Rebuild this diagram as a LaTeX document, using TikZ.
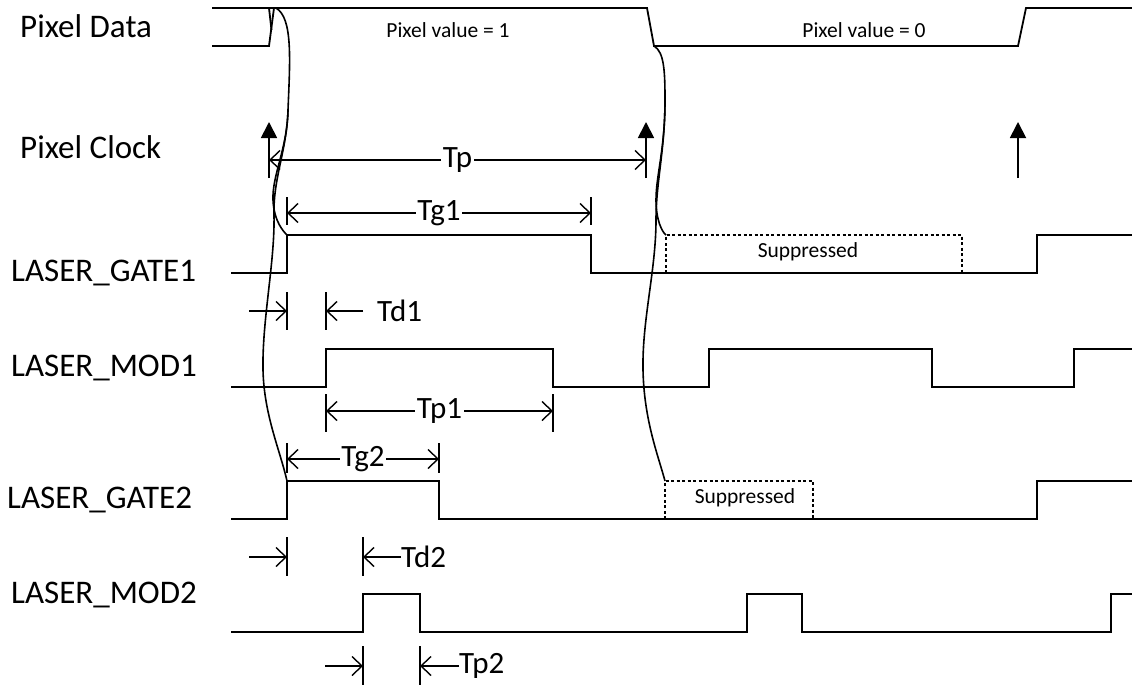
\documentclass[tikz,border=0pt]{standalone}
\usepackage{fontspec}
\setmainfont{Carlito}
\usetikzlibrary{arrows.meta}
\begin{document}
\begin{tikzpicture}[x=1pt,y=-1pt,
  sig/.style={line width=1.8pt, line join=miter},
  wave/.style={line width=1.6pt},
  dim/.style={line width=1.4pt},
  barb/.tip={Straight Barb[length=10pt,width=19pt,line width=1.4pt]},
  dimboth/.style={dim, barb-barb},
  dimarr/.style={dim, -barb},
  clk/.style={line width=1.8pt, -{Triangle[length=16pt,width=16pt]}},
  supp/.style={line width=1.4pt, dash pattern=on 3pt off 2.5pt},
  biglbl/.style={font=\fontsize{31}{37}\selectfont, inner sep=0pt},
  siglbl/.style={font=\fontsize{33}{39}\selectfont, inner sep=0pt, anchor=base west},
  dimlbl/.style={font=\fontsize{31}{37}\selectfont, fill=white, inner xsep=1.5pt, inner ysep=0pt},
  smalllbl/.style={font=\fontsize{21.5}{25}\selectfont, inner sep=0pt}
]
\useasboundingbox (0,0) rectangle (1132,688);

% signal names
\node[siglbl] (nPD) at (20,37) {Pixel Data};
\node[siglbl] (nPC) at (20,158) {Pixel Clock};
\node[siglbl] (nG1) at (11,281) {LASER\_GATE1};
\node[siglbl] (nM1) at (11,376) {LASER\_MOD1};
\node[siglbl] (nG2) at (7,508) {LASER\_GATE2};
\node[siglbl] (nM2) at (11,603) {LASER\_MOD2};

% Pixel Data
\draw[sig] (212,46) -- (269,46) -- (274,8);
\draw[sig] (269,8) -- (271.5,30);
\draw[sig] (212,8) -- (647,8) -- (654,46) -- (1018,46) -- (1026,8) -- (1132,8);
\node[smalllbl] (pv1) at (448,30) {Pixel value = 1};
\node[smalllbl] (pv0) at (864,30) {Pixel value = 0};

% Pixel Clock
\coordinate (c1b) at (269,178); \coordinate (c1t) at (269,122);
\coordinate (c2b) at (646,178); \coordinate (c2t) at (646,122);
\coordinate (c3b) at (1018,178); \coordinate (c3t) at (1018,122);
\draw[clk] (c1b) -- (c1t);
\draw[clk] (c2b) -- (c2t);
\draw[clk] (c3b) -- (c3t);
\coordinate (tpa) at (269,160); \coordinate (tpb) at (646,160);
\draw[dimboth] (tpa) -- node[dimlbl] (tp) {Tp} (tpb);

% LASER_GATE1
\draw[sig] (231,273) -- (287,273) -- (287,235) -- (591,235) -- (591,273) -- (1037,273) -- (1037,235) -- (1132,235);
\draw[supp] (666,273) -- (666,235) -- (962,235) -- (962,273);
\node[smalllbl] (s1) at (808,252) {Suppressed};
% Tg1
\coordinate (g1t1) at (287,197); \coordinate (g1b1) at (287,225);
\coordinate (g1t2) at (591,197); \coordinate (g1b2) at (591,225);
\draw[dim] (g1t1) -- (g1b1);
\draw[dim] (g1t2) -- (g1b2);
\coordinate (g1a) at (287,213); \coordinate (g1b) at (591,213);
\draw[dimboth] (g1a) -- node[dimlbl] (tg1) {Tg1} (g1b);

% Td1
\coordinate (d1t1) at (287,292); \coordinate (d1b1) at (287,330);
\coordinate (d1t2) at (326,292); \coordinate (d1b2) at (326,330);
\draw[dim] (d1t1) -- (d1b1);
\draw[dim] (d1t2) -- (d1b2);
\coordinate (d1s) at (249,311); \coordinate (d1e) at (287,311);
\coordinate (d1r) at (363,311); \coordinate (d1f) at (326,311);
\draw[dimarr] (d1s) -- (d1e);
\draw[dimarr] (d1r) -- (d1f);
\node[biglbl, anchor=west] (td1) at (377,311) {Td1};

% LASER_MOD1
\draw[sig] (231,387) -- (326,387) -- (326,349) -- (553,349) -- (553,387) -- (709,387) -- (709,349) -- (932,349) -- (932,387) -- (1074,387) -- (1074,349) -- (1132,349);
% Tp1
\coordinate (p1t1) at (326,394); \coordinate (p1b1) at (326,432);
\coordinate (p1t2) at (553,394); \coordinate (p1b2) at (553,432);
\draw[dim] (p1t1) -- (p1b1);
\draw[dim] (p1t2) -- (p1b2);
\coordinate (p1a) at (326,411); \coordinate (p1b) at (553,411);
\draw[dimboth] (p1a) -- node[dimlbl] (tp1) {Tp1} (p1b);

% LASER_GATE2
\draw[sig] (231,519) -- (287,519) -- (287,481) -- (439,481) -- (439,519) -- (1037,519) -- (1037,481) -- (1132,481);
\draw[supp] (665,519) -- (665,481) -- (813,481) -- (813,519);
\node[smalllbl] (s2) at (745,498) {Suppressed};
% Tg2
\coordinate (g2t1) at (287,443); \coordinate (g2b1) at (287,473);
\coordinate (g2t2) at (439,443); \coordinate (g2b2) at (439,473);
\draw[dim] (g2t1) -- (g2b1);
\draw[dim] (g2t2) -- (g2b2);
\coordinate (g2a) at (287,459); \coordinate (g2b) at (439,459);
\draw[dimboth] (g2a) -- node[dimlbl] (tg2) {Tg2} (g2b);

% Td2
\coordinate (d2t1) at (287,537); \coordinate (d2b1) at (287,576);
\coordinate (d2t2) at (363,537); \coordinate (d2b2) at (363,576);
\draw[dim] (d2t1) -- (d2b1);
\draw[dim] (d2t2) -- (d2b2);
\coordinate (d2s) at (249,557); \coordinate (d2e) at (287,557);
\coordinate (d2f) at (363,557);
\node[biglbl, anchor=west] (td2) at (401,557) {Td2};
\draw[dimarr] (d2s) -- (d2e);
\draw[dimarr] (td2.west) -- (d2f);

% LASER_MOD2
\draw[sig] (231,632) -- (363,632) -- (363,594) -- (420,594) -- (420,632) -- (747,632) -- (747,594) -- (802,594) -- (802,632) -- (1111,632) -- (1111,594) -- (1132,594);
% Tp2
\coordinate (p2t1) at (363,646); \coordinate (p2b1) at (363,685);
\coordinate (p2t2) at (420,646); \coordinate (p2b2) at (420,685);
\draw[dim] (p2t1) -- (p2b1);
\draw[dim] (p2t2) -- (p2b2);
\coordinate (p2s) at (325,666); \coordinate (p2e) at (363,666);
\coordinate (p2f) at (420,666);
\node[biglbl, anchor=west] (tp2) at (459,666) {Tp2};
\draw[dimarr] (p2s) -- (p2e);
\draw[dimarr] (tp2.west) -- (p2f);

% propagation curves (left)
\draw[wave] (276,8) .. controls (293,18) and (290,60) .. (288,110)
  .. controls (287,150) and (272,175) .. (273,200)
  .. controls (274,222) and (284,232) .. (287,235);
\draw[wave] (288,110)
  .. controls (287,150) and (273,178) .. (274,215)
  .. controls (275,262) and (262,320) .. (263,370)
  .. controls (264,415) and (280,450) .. (287,481);
% propagation curves (right)
\draw[wave] (654,46) .. controls (664,52) and (665,70) .. (665,100)
  .. controls (665,150) and (656,175) .. (656,200)
  .. controls (656,220) and (662,232) .. (666,235);
\draw[wave] (665,100)
  .. controls (665,150) and (656,182) .. (656,220)
  .. controls (656,270) and (642,320) .. (643,370)
  .. controls (644,420) and (658,455) .. (665,481);
\end{tikzpicture}
\end{document}
